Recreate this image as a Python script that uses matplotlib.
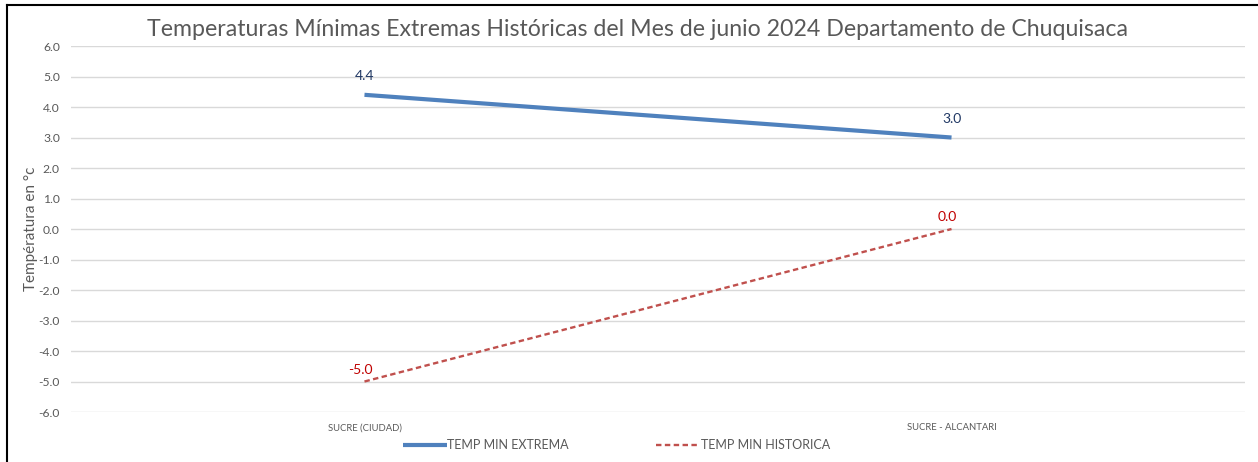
import matplotlib.pyplot as plt
from matplotlib.lines import Line2D

estaciones = ['SUCRE (CIUDAD)', 'SUCRE - ALCANTARI']
temp_extrema = [4.4, 3.0]
temp_historica = [-5.0, 0.0]
y_ticks = [6.0, 5.0, 4.0, 3.0, 2.0, 1.0, 0.0, -1.0, -2.0, -3.0, -4.0, -5.0, -6.0]

plt.rcParams['font.family'] = ['Lato', 'DejaVu Sans']

gris = '#595959'
azul = '#4F81BD'
rojo = '#C0504D'

fig = plt.figure(figsize=(12.58, 4.62), dpi=100)
ax = fig.add_axes([0.0564, 0.1082, 0.9333, 0.7922])

x = list(range(len(estaciones)))
ax.plot(x, temp_extrema, color=azul, lw=3, solid_capstyle='butt',
        label='TEMP MIN EXTREMA', zorder=3)
ax.plot(x, temp_historica, color=rojo, lw=1.7, dashes=(2.3, 1.45),
        label='TEMP MIN HISTORICA', zorder=3)

for xi, v in zip(x, temp_extrema):
    ax.annotate(f'{v:.1f}', xy=(xi, v), xytext=(0, 9),
                textcoords='offset points', ha='center', va='bottom',
                fontsize=10, color='#203864')
for xi, v in zip(x, temp_historica):
    ax.annotate(f'{v:.1f}', xy=(xi, v), xytext=(-3, 4),
                textcoords='offset points', ha='center', va='bottom',
                fontsize=10, color='#C00000')

ax.set_xlim(-0.5, 1.5)
ax.set_ylim(-6, 6)
ax.set_yticks(y_ticks)
ax.set_yticklabels([f'{t:.1f}' for t in y_ticks])
ax.set_xticks(x)
ax.set_xticklabels(estaciones, fontsize=6.8)
ax.tick_params(axis='both', length=0, colors=gris)
ax.tick_params(axis='y', labelsize=8.7, pad=8)
ax.tick_params(axis='x', pad=8)
ax.grid(axis='y', color='#D9D9D9', lw=1)
ax.set_axisbelow(True)
for s in ax.spines.values():
    s.set_visible(False)

ax.set_ylabel('Températura en °c', fontsize=11, color=gris, labelpad=0)

fig.text(0.507, 0.937, 'Temperaturas Mínimas Extremas Históricas del Mes de junio 2024 Departamento de Chuquisaca',
         ha='center', va='center', fontsize=16.7, color=gris)

leg = fig.legend(loc='center', bbox_to_anchor=(0.49, 0.037), ncol=2,
                 frameon=False, fontsize=9, handlelength=3.5,
                 handletextpad=0.05, columnspacing=7.0)
for t in leg.get_texts():
    t.set_color(gris)

# marco recortado (solo borde superior e izquierdo)
fig.add_artist(Line2D([0.0056, 0.0056], [0, 0.99], transform=fig.transFigure,
                      color='black', lw=1.5))
fig.add_artist(Line2D([0.0056, 1], [0.99, 0.99], transform=fig.transFigure,
                      color='black', lw=1.5))

fig.savefig('out.png', dpi=100)
